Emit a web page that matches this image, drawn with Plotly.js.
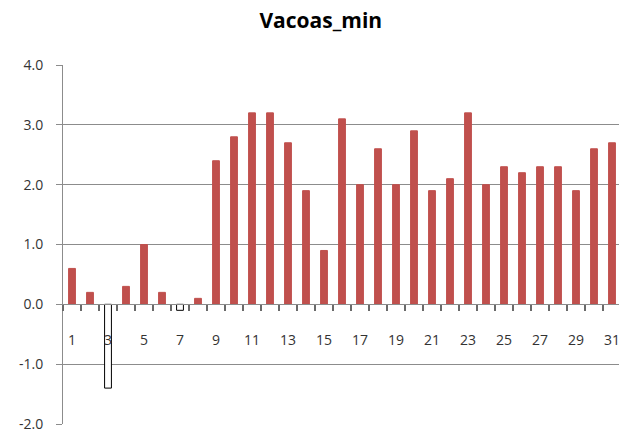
<!DOCTYPE html>
<html>
<head>
<meta charset="utf-8">
<script src="https://cdn.plot.ly/plotly-3.0.1.min.js"></script>
<style>html,body{margin:0;padding:0;overflow:hidden;background:#fff;width:619px;height:434px;}</style>
</head>
<body>
<div id="chart"></div>
<script>
const days = [1,2,3,4,5,6,7,8,9,10,11,12,13,14,15,16,17,18,19,20,21,22,23,24,25,26,27,28,29,30,31];
const values = [0.6,0.2,-1.4,0.3,1.0,0.2,-0.1,0.1,2.4,2.8,3.2,3.2,2.7,1.9,0.9,3.1,2.0,2.6,2.0,2.9,1.9,2.1,3.2,2.0,2.3,2.2,2.3,2.3,1.9,2.6,2.7];
const tickDays = [1,3,5,7,9,11,13,15,17,19,21,23,25,27,29,31];
const tickLabels = tickDays.map(String);
const yTicks = [-2,-1,0,1,2,3,4];
const yTickLabels = ['-2.0','-1.0','0.0','1.0','2.0','3.0','4.0'];

const barColor = '#c0504d';
const gridColor = '#8c8c8c';
const textColor = '#333333';

const boundaries = days.map(d => d - 0.5).concat([days[days.length - 1] + 0.5]);

const trace = {
  type: 'bar',
  x: days,
  y: values,
  width: 0.38,
  marker: {
    color: values.map(v => v < 0 ? '#ffffff' : barColor),
    line: {color: values.map(v => v < 0 ? '#000000' : barColor), width: 1}
  },
  hoverinfo: 'x+y'
};

const labelAnnotations = tickDays.map((d, i) => ({
  x: d, y: 0, xref: 'x', yref: 'y', text: tickLabels[i], showarrow: false,
  xanchor: 'center', yanchor: 'middle', yshift: -35,
  font: {family: 'Open Sans, sans-serif', size: 14, color: textColor}
}));

const layout = {
  width: 624, height: 434,
  margin: {l: 63, r: 3, t: 65, b: 10},
  paper_bgcolor: '#ffffff', plot_bgcolor: '#ffffff',
  showlegend: false,
  title: {text: '<b>Vacoas_min</b>', x: 0.514, xanchor: 'center', y: 0.952, yanchor: 'middle', yref: 'container',
          font: {family: 'Open Sans, sans-serif', size: 21, color: '#000000'}},
  xaxis: {
    type: 'linear', range: [0.5, 31.5],
    anchor: 'free', position: 1/3,
    tickmode: 'array', tickvals: boundaries, ticktext: boundaries.map(() => ''),
    ticks: 'outside', ticklen: 6, tickcolor: '#6a6a6a', tickwidth: 1.2,
    showline: true, linecolor: gridColor, linewidth: 1,
    showgrid: false, zeroline: false, showticklabels: true
  },
  yaxis: {
    range: [-2, 4], tickmode: 'array', tickvals: yTicks, ticktext: yTickLabels,
    showgrid: true, gridcolor: gridColor, gridwidth: 1,
    zeroline: false,
    showline: true, linecolor: gridColor, linewidth: 1,
    ticks: 'outside', ticklen: 6, tickcolor: gridColor,
    ticklabelstandoff: 10,
    tickfont: {family: 'Open Sans, sans-serif', size: 14, color: textColor}
  },
  annotations: labelAnnotations,
  bargap: 0.6
};

Plotly.newPlot('chart', [trace], layout, {displayModeBar: false, staticPlot: true});
</script>
</body>
</html>
